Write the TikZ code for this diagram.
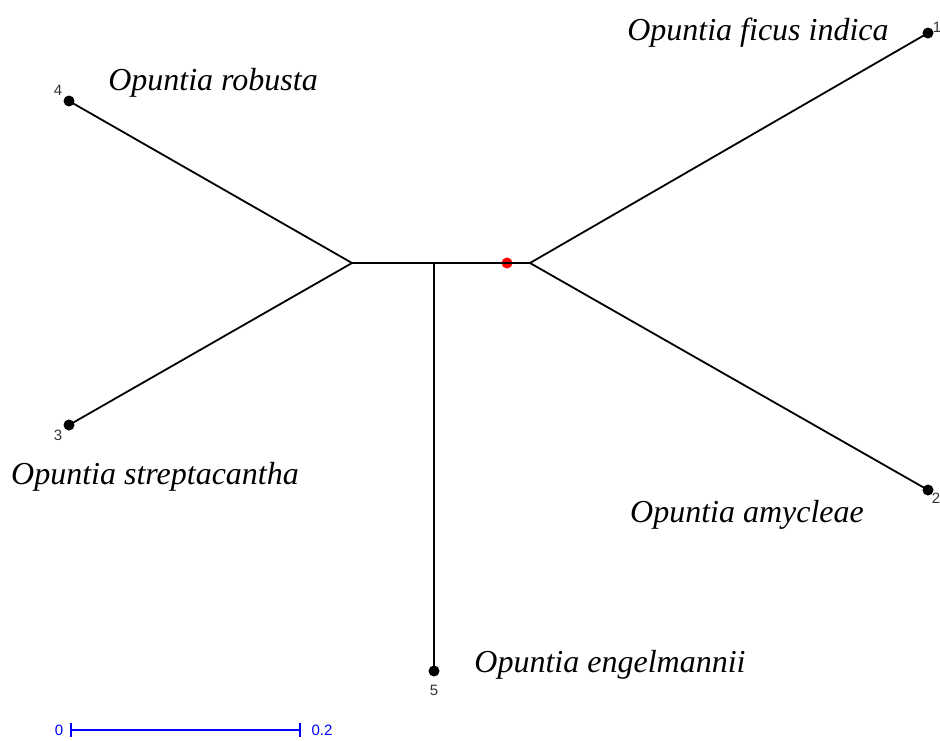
\documentclass[tikz,border=0pt]{standalone}
\usepackage{fontspec}
\setmainfont{Liberation Serif}
\newfontfamily\numfont{Liberation Sans}
\begin{document}
\begin{tikzpicture}[x=1pt,y=-1pt,
  branch/.style={draw=black,line width=1.8pt},
  leafdot/.style={circle,fill=black,inner sep=0pt,minimum size=11pt},
  taxon/.style={font=\fontsize{32}{34}\selectfont\itshape,inner sep=0pt},
  num/.style={font=\numfont\fontsize{15}{15}\selectfont,text=black!80,inner sep=0pt},
  scalebar/.style={draw=blue,line width=1.8pt}]
\useasboundingbox (0,0) rectangle (940,740);
% internal nodes
\coordinate (L) at (352,263);
\coordinate (R) at (530,263);
\coordinate (J) at (434,263);
\node[circle,fill=red,inner sep=0pt,minimum size=11pt] (root) at (507,263) {};
% leaves
\node[leafdot] (n1) at (928,33) {};
\node[leafdot] (n2) at (928,490) {};
\node[leafdot] (n3) at (69,425) {};
\node[leafdot] (n4) at (69,101) {};
\node[leafdot] (n5) at (434,671) {};
% branches
\draw[branch] (L) -- (R);
\draw[branch] (L) -- (n4.center);
\draw[branch] (L) -- (n3.center);
\draw[branch] (R) -- (n1.center);
\draw[branch] (R) -- (n2.center);
\draw[branch] (J) -- (n5.center);
% numbers
\node[num] (t1) at (937,27) {1};
\node[num] (t2) at (936,498) {2};
\node[num] (t3) at (58,435) {3};
\node[num] (t4) at (58,90) {4};
\node[num] (t5) at (434,690) {5};
% taxon labels
\node[taxon] (l1) at (758,33) {Opuntia ficus indica};
\node[taxon] (l4) at (213,83) {Opuntia robusta};
\node[taxon] (l3) at (155,477) {Opuntia streptacantha};
\node[taxon] (l2) at (747,515) {Opuntia amycleae};
\node[taxon] (l5) at (610,665) {Opuntia engelmannii};
% scale bar
\coordinate (s0) at (71,730);
\coordinate (s1) at (300,730);
\draw[scalebar] (s0) -- (s1);
\draw[scalebar] ([yshift=-7]s0) -- ([yshift=7]s0);
\draw[scalebar] ([yshift=-7]s1) -- ([yshift=7]s1);
\node[num,text=blue] (z0) at (59,730) {0};
\node[num,text=blue] (z1) at (322,730) {0.2};
\end{tikzpicture}
\end{document}
